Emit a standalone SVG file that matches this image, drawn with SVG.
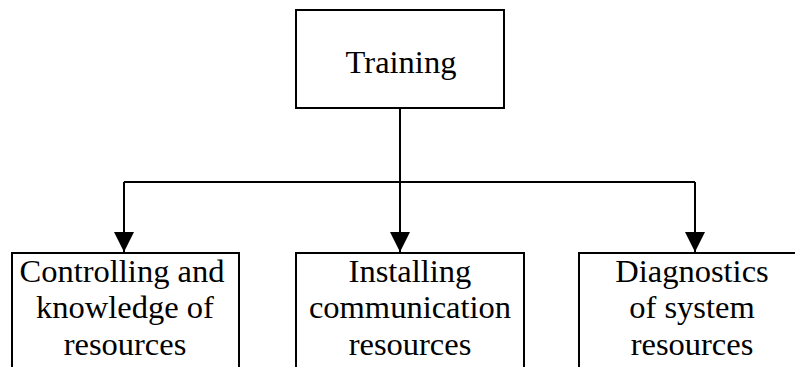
<svg xmlns="http://www.w3.org/2000/svg" width="795" height="367" viewBox="0 0 795 367">
  <defs>
    <style>
      .box { fill: #ffffff; stroke: #000000; stroke-width: 2; }
      .lbl { font-family: "Liberation Serif", "Times New Roman", serif; font-size: 32.5px; fill: #000000; text-anchor: middle; }
      .wire { fill: none; stroke: #000000; stroke-width: 2; }
    </style>
    <marker id="arrow" markerUnits="userSpaceOnUse" markerWidth="20" markerHeight="20" refX="20" refY="10" orient="auto">
      <path d="M0,0 L20,10 L0,20 Z" fill="#000000"/>
    </marker>
  </defs>
  <rect width="795" height="367" fill="#ffffff"/>

  <!-- connectors: trunk from Training, bus, and three drops -->
  <g id="connectors">
    <path class="wire" d="M400,108 V182"/>
    <path class="wire" d="M124,182 H695"/>
    <path class="wire" d="M124,182 V252" marker-end="url(#arrow)"/>
    <path class="wire" d="M400,182 V252" marker-end="url(#arrow)"/>
    <path class="wire" d="M695,182 V252" marker-end="url(#arrow)"/>
  </g>

  <g id="training">
    <rect class="box" x="296" y="10" width="208" height="98"/>
    <text class="lbl" x="401" y="73" font-size="31.5">Training</text>
  </g>

  <g id="controlling">
    <rect class="box" x="12" y="253" width="227" height="130"/>
    <text class="lbl" x="122" y="282">Controlling and</text>
    <text class="lbl" x="125" y="318">knowledge of</text>
    <text class="lbl" x="125" y="355">resources</text>
  </g>

  <g id="installing">
    <rect class="box" x="296" y="253" width="228" height="130"/>
    <text class="lbl" x="410" y="282">Installing</text>
    <text class="lbl" x="410" y="318">communication</text>
    <text class="lbl" x="410" y="355">resources</text>
  </g>

  <g id="diagnostics">
    <rect class="box" x="579" y="253" width="230" height="130"/>
    <text class="lbl" x="692" y="282">Diagnostics</text>
    <text class="lbl" x="692" y="318">of system</text>
    <text class="lbl" x="692" y="355">resources</text>
  </g>
</svg>
